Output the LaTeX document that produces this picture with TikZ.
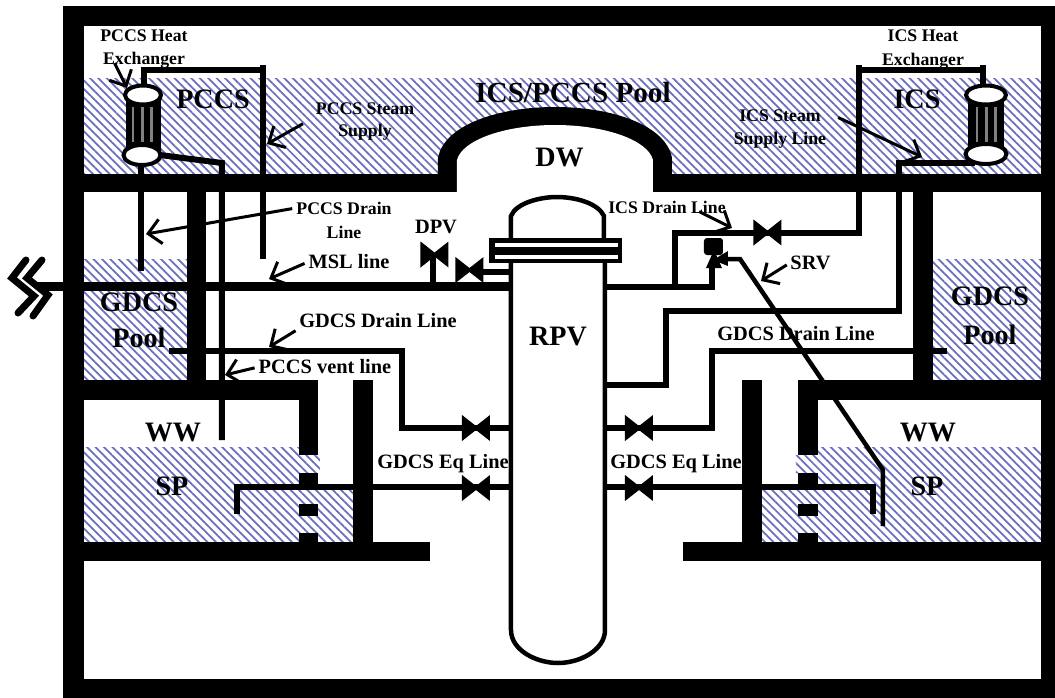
\documentclass[tikz,border=0pt]{standalone}
\usepackage{fontspec}
\setmainfont{Liberation Serif}
\usetikzlibrary{arrows.meta,patterns.meta}
\definecolor{hatchblue}{RGB}{105,110,190}
\tikzset{
  water/.style={pattern={Lines[angle=-45,distance=1.7pt,line width=0.5pt]},pattern color=hatchblue},
  pipe/.style={draw=black,line width=0.06cm},
  thinpipe/.style={draw=black,line width=0.045cm},
  shell/.style={draw=black,line width=0.045cm},
  leader/.style={draw=black,line width=0.03cm,-{Straight Barb[length=3.6pt,width=7pt]},shorten <=1pt},
  biglabel/.style={font=\fontsize{8}{9}\selectfont\bfseries,inner sep=0pt},
  midlabel/.style={font=\fontsize{5.8}{7}\selectfont\bfseries,inner sep=0pt},
  smalllabel/.style={font=\fontsize{5.05}{6}\selectfont\bfseries,inner sep=0pt},
  valve/.pic={\fill[black] (-0.14,-0.13) -- (0,-0.02) -- (0.14,-0.13) -- (0.14,0.13) -- (0,0.02) -- (-0.14,0.13) -- cycle;}
}

\begin{document}
\begin{tikzpicture}[x=1cm,y=-1cm]
  \useasboundingbox (0,0) rectangle (10.55,6.98);

  % Water
  \fill[water] (0.84,0.78) rectangle (10.41,1.74);
  \fill[water] (0.84,2.59) rectangle (1.87,3.80);
  \fill[water] (9.33,2.59) rectangle (10.41,3.80);
  \fill[water] (0.84,4.47) -- (2.99,4.47) -- (2.99,4.55) -- (3.20,4.55) -- (3.20,4.73) -- (2.99,4.73) -- (2.99,4.90) -- (3.53,4.90) -- (3.53,5.42) -- (0.84,5.42) -- cycle;
  \fill[water] (8.18,4.47) -- (10.41,4.47) -- (10.41,5.42) -- (7.62,5.42) -- (7.62,4.90) -- (7.98,4.90) -- (7.98,4.73) -- (7.96,4.73) -- (7.96,4.55) -- (8.18,4.55) -- cycle;

  % Outer walls
  \fill[black] (0.63,0.06) rectangle (10.55,0.26);
  \fill[black] (0.63,0.06) rectangle (0.84,6.98);
  \fill[black] (10.41,0.06) rectangle (10.55,6.98);
  \fill[black] (0.63,6.79) rectangle (10.55,6.98);

  % Drywell floor and dome
  \fill[black] (0.84,1.74) rectangle (10.41,1.92);
  \fill[black] (4.38,1.76) -- (4.38,1.58) .. controls (4.44,1.25) and (4.98,1.07) .. (5.55,1.07) .. controls (6.12,1.07) and (6.66,1.25) .. (6.72,1.58) -- (6.72,1.76) -- cycle;
  \fill[white] (4.57,1.92) -- (4.57,1.60) .. controls (4.62,1.40) and (5.05,1.25) .. (5.55,1.25) .. controls (6.05,1.25) and (6.48,1.40) .. (6.53,1.60) -- (6.53,1.92) -- cycle;

  % Inner walls, left
  \fill[black] (1.87,1.92) rectangle (2.06,3.80);
  \fill[black] (0.84,3.80) rectangle (3.18,4.00);
  \fill[black] (2.99,4.00) rectangle (3.18,4.55);
  \fill[black] (2.99,4.73) rectangle (3.18,4.87);
  \fill[black] (2.99,5.04) rectangle (3.18,5.16);
  \fill[black] (2.99,5.33) rectangle (3.18,5.43);
  \fill[black] (3.53,3.80) rectangle (3.73,5.43);
  \fill[black] (0.84,5.42) rectangle (4.30,5.61);

  % Inner walls, right
  \fill[black] (9.13,1.92) rectangle (9.33,3.80);
  \fill[black] (7.98,3.80) rectangle (10.41,4.00);
  \fill[black] (7.98,4.00) rectangle (8.18,4.55);
  \fill[black] (7.98,4.73) rectangle (8.18,4.87);
  \fill[black] (7.98,5.04) rectangle (8.18,5.16);
  \fill[black] (7.98,5.33) rectangle (8.18,5.43);
  \fill[black] (7.42,3.80) rectangle (7.62,5.43);
  \fill[black] (6.83,5.42) rectangle (10.41,5.61);

  % RPV
  \draw[shell] (5.11,2.38) -- (5.11,2.16) .. controls (5.16,2.03) and (5.40,1.97) .. (5.57,1.97) .. controls (5.75,1.97) and (5.98,2.03) .. (6.04,2.16) -- (6.04,2.38);
  \draw[shell] (5.11,2.63) -- (5.11,6.30) .. controls (5.11,6.50) and (5.36,6.63) .. (5.58,6.63) .. controls (5.80,6.63) and (6.05,6.50) .. (6.05,6.30) -- (6.05,2.63);
  \fill[black] (4.89,2.38) rectangle (6.22,2.63);
  \fill[white] (4.95,2.43) rectangle (6.18,2.47);
  \fill[white] (4.95,2.55) rectangle (6.18,2.59);

  % PCCS lines
  \draw[pipe] (1.44,0.87) -- (1.44,0.695) -- (2.63,0.695);
  \draw[pipe] (2.63,0.65) -- (2.63,2.59);
  \draw[pipe] (1.60,1.55) -- (2.22,1.63) -- (2.22,4.40);
  \draw[pipe] (1.415,1.64) -- (1.415,2.71);

  % Main steam line and break
  \draw[line width=0.09cm] (0.38,2.865) -- (5.11,2.865);
  \draw[pipe] (4.83,2.72) -- (5.11,2.72);
  \draw[pipe] (4.33,2.55) -- (4.33,2.85);
  \draw[line width=0.07cm,line cap=round] (0.26,2.60) -- (0.12,2.78) -- (0.34,2.96) -- (0.18,3.13);
  \draw[line width=0.07cm,line cap=round] (0.42,2.60) -- (0.27,2.78) -- (0.48,2.95) -- (0.33,3.16);

  % GDCS lines, left
  \draw[pipe] (1.69,3.51) -- (4.02,3.51) -- (4.02,4.28) -- (5.11,4.28);
  \draw[pipe] (2.37,5.14) -- (2.37,4.87) -- (5.11,4.87);

  % GDCS lines, right
  \draw[pipe] (9.47,3.51) -- (7.125,3.51) -- (7.125,4.28) -- (6.05,4.28);
  \draw[pipe] (8.73,5.14) -- (8.73,4.87) -- (6.05,4.87);

  % ICS lines
  \draw[pipe] (9.83,0.85) -- (9.83,0.65);
  \draw[pipe] (9.83,0.695) -- (8.59,0.695);
  \draw[pipe] (8.59,0.65) -- (8.59,2.325) -- (6.75,2.325) -- (6.75,2.87);
  \draw[pipe] (9.75,1.63) -- (8.99,1.63) -- (8.99,3.11) -- (6.665,3.11) -- (6.665,3.85) -- (6.05,3.85);
  \draw[pipe] (6.05,2.87) -- (7.125,2.87) -- (7.125,2.65);

  % SRV
  \fill[black,rounded corners=0.03cm] (7.04,2.38) rectangle (7.23,2.55);
  \fill[black] (7.06,2.68) -- (7.14,2.50) -- (7.22,2.68) -- cycle;
  \fill[black] (7.13,2.60) -- (7.28,2.51) -- (7.28,2.66) -- cycle;
  \draw[thinpipe] (7.26,2.59) -- (7.40,2.59) -- (8.83,4.70) -- (8.83,5.26);

  % Valves
  \pic at (4.345,2.545) {valve};
  \pic at (4.695,2.70) {valve};
  \pic at (7.675,2.325) {valve};
  \pic at (4.76,4.28) {valve};
  \pic at (4.76,4.88) {valve};
  \pic at (6.39,4.28) {valve};
  \pic at (6.39,4.88) {valve};

  % PCCS heat exchanger
  \fill[black] (1.26,0.95) rectangle (1.61,1.55);
  \fill[gray] (1.32,1.07) rectangle (1.345,1.42);
  \fill[gray] (1.41,1.07) rectangle (1.44,1.42);
  \fill[gray] (1.50,1.07) rectangle (1.53,1.42);
  \draw[fill=white,line width=0.04cm] (1.43,0.95) ellipse (0.18 and 0.095);
  \draw[fill=white,line width=0.04cm] (1.42,1.55) ellipse (0.185 and 0.10);

  % ICS heat exchanger
  \fill[black] (9.68,0.95) rectangle (10.04,1.54);
  \fill[gray] (9.76,1.07) rectangle (9.785,1.42);
  \fill[gray] (9.85,1.07) rectangle (9.88,1.42);
  \fill[gray] (9.94,1.07) rectangle (9.97,1.42);
  \draw[fill=white,line width=0.04cm] (9.86,0.95) ellipse (0.20 and 0.095);
  \draw[fill=white,line width=0.04cm] (9.86,1.54) ellipse (0.205 and 0.10);

  % Big labels
  \node[biglabel] (pool) at (5.73,0.93) {\fontsize{8.3}{9}\selectfont ICS/PCCS Pool};
  \node[biglabel] (pccs) at (2.13,0.99) {PCCS};
  \node[biglabel] (ics) at (9.17,0.99) {ICS};
  \node[biglabel] (dw) at (5.595,1.58) {DW};
  \node[biglabel] (rpv) at (5.58,3.37) {RPV};
  \node[biglabel] (gdcsl) at (1.39,3.02) {GDCS};
  \node[biglabel] (pooll) at (1.39,3.38) {Pool};
  \node[biglabel] (gdcsr) at (9.90,2.96) {GDCS};
  \node[biglabel] (poolr) at (9.90,3.35) {Pool};
  \node[biglabel] (wwl) at (1.73,4.33) {WW};
  \node[biglabel] (spl) at (1.72,4.86) {SP};
  \node[biglabel] (wwr) at (9.28,4.33) {WW};
  \node[biglabel] (spr) at (9.27,4.86) {SP};

  % Line labels
  \node[smalllabel] (pccsheat) at (1.44,0.36) {PCCS Heat};
  \node[smalllabel] (pccsex) at (1.44,0.60) {Exchanger};
  \node[smalllabel] (pccssteam) at (3.65,1.09) {PCCS Steam};
  \node[smalllabel] (pccssupply) at (3.65,1.32) {Supply};
  \node[smalllabel] (pccsdrain) at (3.44,2.08) {PCCS Drain};
  \node[smalllabel] (pccsdrainb) at (3.44,2.32) {Line};
  \node[midlabel] (dpv) at (4.36,2.27) {DPV};
  \node[midlabel] (msl) at (3.49,2.62) {MSL line};
  \node[midlabel] (gdcsdrainl) at (3.78,3.21) {GDCS Drain Line};
  \node[midlabel] (vent) at (3.25,3.67) {PCCS vent line};
  \node[midlabel] (eql) at (4.43,4.64) {GDCS Eq Line};
  \node[smalllabel] (icsheat) at (9.23,0.36) {ICS Heat};
  \node[smalllabel] (icsex) at (9.23,0.61) {Exchanger};
  \node[smalllabel] (icssteam) at (7.80,1.16) {ICS Steam};
  \node[smalllabel] (icssupply) at (7.80,1.40) {Supply Line};
  \node[smalllabel] (icsdrain) at (6.67,2.07) {ICS Drain Line};
  \node[midlabel] (srv) at (8.105,2.63) {SRV};
  \node[midlabel] (gdcsdrainr) at (7.96,3.34) {GDCS Drain Line};
  \node[midlabel] (eqr) at (6.76,4.64) {GDCS Eq Line};

  % Leaders
  \coordinate (pccsexfrom) at (1.13,0.60);
  \coordinate (pccsextip) at (1.27,0.88);
  \coordinate (pccssteamfrom) at (3.06,1.22);
  \coordinate (pccssteamtip) at (2.67,1.44);
  \coordinate (pccsdraintip) at (1.46,2.34);
  \coordinate (msltip) at (2.69,2.79);
  \coordinate (gdcsdrainltip) at (2.69,3.47);
  \coordinate (venttip) at (2.25,3.75);
  \coordinate (icssteamfrom) at (8.35,1.16);
  \coordinate (icssteamtip) at (9.22,1.57);
  \coordinate (icsdrainfrom) at (6.96,2.10);
  \coordinate (icsdraintip) at (7.32,2.28);
  \coordinate (srvtip) at (7.61,2.81);
  \draw[leader] (pccsexfrom) -- (pccsextip);
  \draw[leader] (pccssteamfrom) -- (pccssteamtip);
  \draw[leader] (pccsdrain.west) -- (pccsdraintip);
  \draw[leader] (msl.west) -- (msltip);
  \draw[leader] (gdcsdrainl.south west) -- (gdcsdrainltip);
  \draw[leader] (vent.west) -- (venttip);
  \draw[leader] (icssteamfrom) -- (icssteamtip);
  \draw[leader] (icsdrainfrom) -- (icsdraintip);
  \draw[leader] (srv.west) -- (srvtip);
\end{tikzpicture}
\end{document}
